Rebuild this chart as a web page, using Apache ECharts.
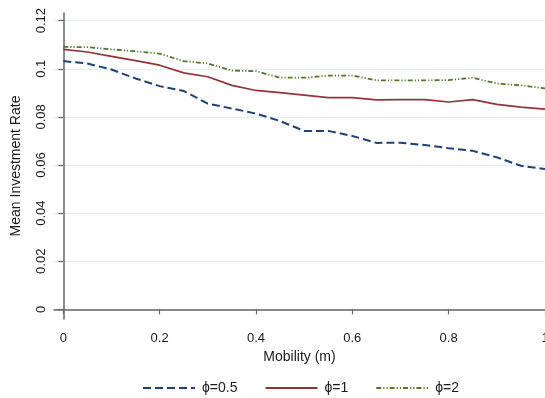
<!DOCTYPE html>
<html>
<head>
<meta charset="utf-8">
<script src="https://cdn.jsdelivr.net/npm/echarts@6/dist/echarts.min.js"></script>
<style>html,body{margin:0;padding:0;background:#fff}#c{width:545px;height:398px}</style>
</head>
<body>
<div id="c"></div>
<script>
const mobility = [0,0.05,0.1,0.15,0.2,0.25,0.3,0.35,0.4,0.45,0.5,0.55,0.6,0.65,0.7,0.75,0.8,0.85,0.9,0.95,1];
const phi05 = [0.1032,0.1022,0.0997,0.0960,0.0928,0.0908,0.0855,0.0835,0.0814,0.0783,0.0742,0.0742,0.0721,0.0692,0.0693,0.0683,0.0670,0.0659,0.0632,0.0597,0.0583];
const phi1  = [0.1081,0.1070,0.1052,0.1034,0.1015,0.0983,0.0967,0.0931,0.0910,0.0901,0.0891,0.0880,0.0880,0.0871,0.0872,0.0872,0.0862,0.0872,0.0852,0.0841,0.0832];
const phi2  = [0.1091,0.1090,0.1081,0.1073,0.1063,0.1032,0.1022,0.0993,0.0990,0.0963,0.0963,0.0972,0.0972,0.0952,0.0952,0.0952,0.0953,0.0963,0.0939,0.0931,0.0919];
const xTicks = [0,0.2,0.4,0.6,0.8,1];
const yTicks = [0,0.02,0.04,0.06,0.08,0.1,0.12];
const seriesNames = ['\u03D5=0.5','\u03D5=1','\u03D5=2'];

const FONT = "'Liberation Sans', Arial, Helvetica, sans-serif";
const TXT = '#1a1a1a';
const chart = echarts.init(document.getElementById('c'));
const pair = (ys) => mobility.map((m, i) => [m, ys[i]]);
const fmt = v => String(+v.toFixed(2));

chart.setOption({
  animation: false,
  backgroundColor: '#fff',
  textStyle: { fontFamily: FONT },
  grid: { left: 54, right: 0, top: 13, bottom: 79, containLabel: false, outerBoundsMode: 'none' },
  xAxis: {
    type: 'value', min: -0.0193, max: 1,
    name: 'Mobility (m)', nameLocation: 'middle', nameGap: 31,
    nameTextStyle: { fontFamily: FONT, fontSize: 14, color: TXT },
    axisLine: { show: true, lineStyle: { color: '#666', width: 1.5 } },
    axisTick: { show: true, length: 5, customValues: xTicks, lineStyle: { color: '#666', width: 1.2 } },
    axisLabel: { customValues: xTicks, margin: 13, fontFamily: FONT, fontSize: 13, color: TXT, formatter: fmt, showMaxLabel: true, showMinLabel: true, hideOverlap: false },
    splitLine: { show: false }
  },
  yAxis: {
    type: 'value', min: -0.004, max: 0.1232,
    name: 'Mean Investment Rate', nameLocation: 'middle', nameGap: 31, nameRotate: 90,
    nameTextStyle: { fontFamily: FONT, fontSize: 14, color: TXT },
    axisLine: { show: true, lineStyle: { color: '#666', width: 1.5 } },
    axisTick: { show: true, length: 5, customValues: yTicks, lineStyle: { color: '#666', width: 1.2 } },
    axisLabel: { customValues: yTicks, rotate: 90, margin: 6, fontFamily: FONT, fontSize: 13, color: TXT, formatter: fmt, showMaxLabel: true, showMinLabel: true },
    splitLine: { show: true, lineStyle: { color: '#e6eeee', width: 1.2 } }
  },
  legend: {
    bottom: -2, left: 137, itemWidth: 52, itemHeight: 12, itemGap: 27,
    itemStyle: { opacity: 0 },
    textStyle: { fontFamily: FONT, fontSize: 14, color: TXT, padding: [0, 0, 0, 2] },
    data: seriesNames
  },
  series: [
    { name: seriesNames[0], type: 'line', data: pair(phi05), symbol: 'none', smooth: false,
      lineStyle: { color: '#1f4273', width: 2, type: [8, 4] }, itemStyle: { color: '#1f4273' } },
    { name: seriesNames[1], type: 'line', data: pair(phi1), symbol: 'none',
      lineStyle: { color: '#90353b', width: 1.7, type: 'solid' }, itemStyle: { color: '#90353b' } },
    { name: seriesNames[2], type: 'line', data: pair(phi2), symbol: 'none',
      lineStyle: { color: '#55752f', width: 1.8, type: [5, 2, 1.2, 2, 1.2, 2] }, itemStyle: { color: '#55752f' } }
  ]
});
</script>
</body>
</html>
